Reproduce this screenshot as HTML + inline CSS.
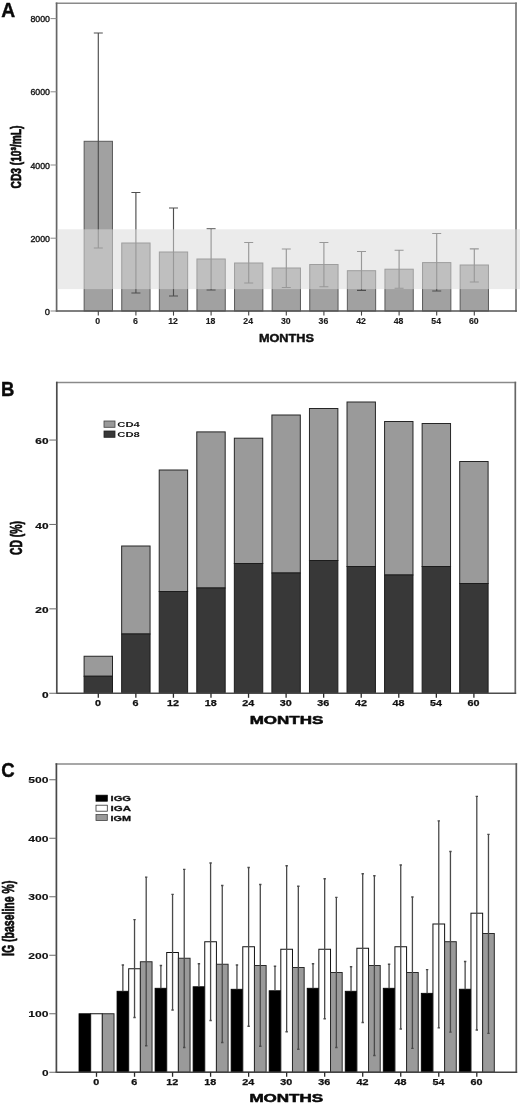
<!DOCTYPE html>
<html><head><meta charset="utf-8"><title>Figure</title>
<style>
html,body{margin:0;padding:0;background:#fff;}
body{width:520px;height:1104px;overflow:hidden;font-family:"Liberation Sans",sans-serif;}
svg{display:block;font-family:"Liberation Sans",sans-serif;filter:grayscale(1) blur(0.35px);}
</style></head><body>
<svg width="520" height="1104" viewBox="0 0 520 1104">
<rect width="520" height="1104" fill="#fff"/>
<g id="pA">
<rect x="84.15" y="141.3" width="28.3" height="169.70" fill="#a1a1a1" stroke="#5a5a5a" stroke-width="1"/>
<rect x="121.75" y="243" width="28.3" height="68.00" fill="#a1a1a1" stroke="#5a5a5a" stroke-width="1"/>
<rect x="159.35" y="252" width="28.3" height="59.00" fill="#a1a1a1" stroke="#5a5a5a" stroke-width="1"/>
<rect x="196.95" y="259" width="28.3" height="52.00" fill="#a1a1a1" stroke="#5a5a5a" stroke-width="1"/>
<rect x="234.55" y="263" width="28.3" height="48.00" fill="#a1a1a1" stroke="#5a5a5a" stroke-width="1"/>
<rect x="272.15" y="268" width="28.3" height="43.00" fill="#a1a1a1" stroke="#5a5a5a" stroke-width="1"/>
<rect x="309.75" y="264.5" width="28.3" height="46.50" fill="#a1a1a1" stroke="#5a5a5a" stroke-width="1"/>
<rect x="347.35" y="270.7" width="28.3" height="40.30" fill="#a1a1a1" stroke="#5a5a5a" stroke-width="1"/>
<rect x="384.95" y="269.2" width="28.3" height="41.80" fill="#a1a1a1" stroke="#5a5a5a" stroke-width="1"/>
<rect x="422.55" y="262.6" width="28.3" height="48.40" fill="#a1a1a1" stroke="#5a5a5a" stroke-width="1"/>
<rect x="460.15" y="265" width="28.3" height="46.00" fill="#a1a1a1" stroke="#5a5a5a" stroke-width="1"/>
<path d="M98.30 33V248M93.80 33h9M93.80 248h9" stroke="#4e4e4e" stroke-width="1.15" fill="none"/>
<path d="M135.90 192.5V293M131.40 192.5h9M131.40 293h9" stroke="#4e4e4e" stroke-width="1.15" fill="none"/>
<path d="M173.50 208V296M169.00 208h9M169.00 296h9" stroke="#4e4e4e" stroke-width="1.15" fill="none"/>
<path d="M211.10 228.75V290M206.60 228.75h9M206.60 290h9" stroke="#4e4e4e" stroke-width="1.15" fill="none"/>
<path d="M248.70 242.5V283M244.20 242.5h9M244.20 283h9" stroke="#4e4e4e" stroke-width="1.15" fill="none"/>
<path d="M286.30 249V287.5M281.80 249h9M281.80 287.5h9" stroke="#4e4e4e" stroke-width="1.15" fill="none"/>
<path d="M323.90 242.5V286.75M319.40 242.5h9M319.40 286.75h9" stroke="#4e4e4e" stroke-width="1.15" fill="none"/>
<path d="M361.50 251.5V290.3M357.00 251.5h9M357.00 290.3h9" stroke="#4e4e4e" stroke-width="1.15" fill="none"/>
<path d="M399.10 250.2V288.2M394.60 250.2h9M394.60 288.2h9" stroke="#4e4e4e" stroke-width="1.15" fill="none"/>
<path d="M436.70 233.5V291M432.20 233.5h9M432.20 291h9" stroke="#4e4e4e" stroke-width="1.15" fill="none"/>
<path d="M474.30 248.8V282M469.80 248.8h9M469.80 282h9" stroke="#4e4e4e" stroke-width="1.15" fill="none"/>
<path d="M55.75 3.3H516.85" stroke="#8a8a8a" stroke-width="1.5"/>
<path d="M516 2.55V311.75" stroke="#777" stroke-width="1.7"/>
<path d="M56.6 2.55V311.75" stroke="#666" stroke-width="1.7"/>
<path d="M55.75 311H516.85" stroke="#555" stroke-width="1.5"/>
<rect x="57.5" y="229.3" width="462.5" height="59.8" fill="#d9d9d9" fill-opacity="0.535"/>
<path d="M50.5 311.00H56.6" stroke="#8a8a8a" stroke-width="1"/>
<text x="50" y="314.6" font-size="9" font-weight="normal" text-anchor="end" fill="#1a1a1a" textLength="5.2" lengthAdjust="spacingAndGlyphs" stroke="#1a1a1a" stroke-width="0.4" stroke-linejoin="round">0</text>
<path d="M50.5 238.20H56.6" stroke="#8a8a8a" stroke-width="1"/>
<text x="50" y="241.8" font-size="9" font-weight="normal" text-anchor="end" fill="#1a1a1a" textLength="19.6" lengthAdjust="spacingAndGlyphs" stroke="#1a1a1a" stroke-width="0.4" stroke-linejoin="round">2000</text>
<path d="M50.5 165.00H56.6" stroke="#8a8a8a" stroke-width="1"/>
<text x="50" y="168.6" font-size="9" font-weight="normal" text-anchor="end" fill="#1a1a1a" textLength="19.6" lengthAdjust="spacingAndGlyphs" stroke="#1a1a1a" stroke-width="0.4" stroke-linejoin="round">4000</text>
<path d="M50.5 91.80H56.6" stroke="#8a8a8a" stroke-width="1"/>
<text x="50" y="95.4" font-size="9" font-weight="normal" text-anchor="end" fill="#1a1a1a" textLength="19.6" lengthAdjust="spacingAndGlyphs" stroke="#1a1a1a" stroke-width="0.4" stroke-linejoin="round">6000</text>
<path d="M50.5 18.60H56.6" stroke="#8a8a8a" stroke-width="1"/>
<text x="50" y="22.2" font-size="9" font-weight="normal" text-anchor="end" fill="#1a1a1a" textLength="19.6" lengthAdjust="spacingAndGlyphs" stroke="#1a1a1a" stroke-width="0.4" stroke-linejoin="round">8000</text>
<path d="M98.30 311v4.6" stroke="#444" stroke-width="1.1"/>
<text x="97.8" y="324.3" font-size="8.8" font-weight="bold" text-anchor="middle" fill="#1a1a1a" textLength="4.9" lengthAdjust="spacingAndGlyphs" stroke="#1a1a1a" stroke-width="0.15" stroke-linejoin="round">0</text>
<path d="M135.90 311v4.6" stroke="#444" stroke-width="1.1"/>
<text x="135.4" y="324.3" font-size="8.8" font-weight="bold" text-anchor="middle" fill="#1a1a1a" textLength="4.9" lengthAdjust="spacingAndGlyphs" stroke="#1a1a1a" stroke-width="0.15" stroke-linejoin="round">6</text>
<path d="M173.50 311v4.6" stroke="#444" stroke-width="1.1"/>
<text x="173.0" y="324.3" font-size="8.8" font-weight="bold" text-anchor="middle" fill="#1a1a1a" textLength="9.7" lengthAdjust="spacingAndGlyphs" stroke="#1a1a1a" stroke-width="0.15" stroke-linejoin="round">12</text>
<path d="M211.10 311v4.6" stroke="#444" stroke-width="1.1"/>
<text x="210.6" y="324.3" font-size="8.8" font-weight="bold" text-anchor="middle" fill="#1a1a1a" textLength="9.7" lengthAdjust="spacingAndGlyphs" stroke="#1a1a1a" stroke-width="0.15" stroke-linejoin="round">18</text>
<path d="M248.70 311v4.6" stroke="#444" stroke-width="1.1"/>
<text x="248.2" y="324.3" font-size="8.8" font-weight="bold" text-anchor="middle" fill="#1a1a1a" textLength="9.7" lengthAdjust="spacingAndGlyphs" stroke="#1a1a1a" stroke-width="0.15" stroke-linejoin="round">24</text>
<path d="M286.30 311v4.6" stroke="#444" stroke-width="1.1"/>
<text x="285.8" y="324.3" font-size="8.8" font-weight="bold" text-anchor="middle" fill="#1a1a1a" textLength="9.7" lengthAdjust="spacingAndGlyphs" stroke="#1a1a1a" stroke-width="0.15" stroke-linejoin="round">30</text>
<path d="M323.90 311v4.6" stroke="#444" stroke-width="1.1"/>
<text x="323.4" y="324.3" font-size="8.8" font-weight="bold" text-anchor="middle" fill="#1a1a1a" textLength="9.7" lengthAdjust="spacingAndGlyphs" stroke="#1a1a1a" stroke-width="0.15" stroke-linejoin="round">36</text>
<path d="M361.50 311v4.6" stroke="#444" stroke-width="1.1"/>
<text x="361.0" y="324.3" font-size="8.8" font-weight="bold" text-anchor="middle" fill="#1a1a1a" textLength="9.7" lengthAdjust="spacingAndGlyphs" stroke="#1a1a1a" stroke-width="0.15" stroke-linejoin="round">42</text>
<path d="M399.10 311v4.6" stroke="#444" stroke-width="1.1"/>
<text x="398.6" y="324.3" font-size="8.8" font-weight="bold" text-anchor="middle" fill="#1a1a1a" textLength="9.7" lengthAdjust="spacingAndGlyphs" stroke="#1a1a1a" stroke-width="0.15" stroke-linejoin="round">48</text>
<path d="M436.70 311v4.6" stroke="#444" stroke-width="1.1"/>
<text x="436.2" y="324.3" font-size="8.8" font-weight="bold" text-anchor="middle" fill="#1a1a1a" textLength="9.7" lengthAdjust="spacingAndGlyphs" stroke="#1a1a1a" stroke-width="0.15" stroke-linejoin="round">54</text>
<path d="M474.30 311v4.6" stroke="#444" stroke-width="1.1"/>
<text x="473.8" y="324.3" font-size="8.8" font-weight="bold" text-anchor="middle" fill="#1a1a1a" textLength="9.7" lengthAdjust="spacingAndGlyphs" stroke="#1a1a1a" stroke-width="0.15" stroke-linejoin="round">60</text>
<text x="286.4" y="341.5" font-size="11.2" font-weight="bold" text-anchor="middle" fill="#111" textLength="55" lengthAdjust="spacingAndGlyphs" stroke="#111" stroke-width="0.45" stroke-linejoin="round">MONTHS</text>
<text x="21" y="157" font-size="13.8" font-weight="bold" text-anchor="middle" fill="#0a0a0a" textLength="63" lengthAdjust="spacingAndGlyphs" transform="rotate(-90 21 157)" stroke="#0a0a0a" stroke-width="0.7" stroke-linejoin="round">CD3 (10&#179;/mL)</text>
<text x="8.2" y="16.9" font-size="19.3" font-weight="bold" text-anchor="middle" fill="#0a0a0a" stroke="#0a0a0a" stroke-width="0.4" stroke-linejoin="round">A</text>
</g>
<g id="pB">
<rect x="84.10" y="656.25" width="28.4" height="20.00" fill="#9a9a9a" stroke="#262626" stroke-width="1"/>
<rect x="84.10" y="676.25" width="28.4" height="16.95" fill="#383838" stroke="#1c1c1c" stroke-width="1"/>
<rect x="121.66" y="546" width="28.4" height="88.00" fill="#9a9a9a" stroke="#262626" stroke-width="1"/>
<rect x="121.66" y="634" width="28.4" height="59.20" fill="#383838" stroke="#1c1c1c" stroke-width="1"/>
<rect x="159.22" y="470" width="28.4" height="121.50" fill="#9a9a9a" stroke="#262626" stroke-width="1"/>
<rect x="159.22" y="591.5" width="28.4" height="101.70" fill="#383838" stroke="#1c1c1c" stroke-width="1"/>
<rect x="196.78" y="431.9" width="28.4" height="156.10" fill="#9a9a9a" stroke="#262626" stroke-width="1"/>
<rect x="196.78" y="588" width="28.4" height="105.20" fill="#383838" stroke="#1c1c1c" stroke-width="1"/>
<rect x="234.34" y="438.2" width="28.4" height="125.30" fill="#9a9a9a" stroke="#262626" stroke-width="1"/>
<rect x="234.34" y="563.5" width="28.4" height="129.70" fill="#383838" stroke="#1c1c1c" stroke-width="1"/>
<rect x="271.90" y="415" width="28.4" height="158.00" fill="#9a9a9a" stroke="#262626" stroke-width="1"/>
<rect x="271.90" y="573" width="28.4" height="120.20" fill="#383838" stroke="#1c1c1c" stroke-width="1"/>
<rect x="309.46" y="408.5" width="28.4" height="152.00" fill="#9a9a9a" stroke="#262626" stroke-width="1"/>
<rect x="309.46" y="560.5" width="28.4" height="132.70" fill="#383838" stroke="#1c1c1c" stroke-width="1"/>
<rect x="347.02" y="402" width="28.4" height="164.50" fill="#9a9a9a" stroke="#262626" stroke-width="1"/>
<rect x="347.02" y="566.5" width="28.4" height="126.70" fill="#383838" stroke="#1c1c1c" stroke-width="1"/>
<rect x="384.58" y="421.5" width="28.4" height="153.50" fill="#9a9a9a" stroke="#262626" stroke-width="1"/>
<rect x="384.58" y="575" width="28.4" height="118.20" fill="#383838" stroke="#1c1c1c" stroke-width="1"/>
<rect x="422.14" y="423.5" width="28.4" height="143.00" fill="#9a9a9a" stroke="#262626" stroke-width="1"/>
<rect x="422.14" y="566.5" width="28.4" height="126.70" fill="#383838" stroke="#1c1c1c" stroke-width="1"/>
<rect x="459.70" y="461.5" width="28.4" height="122.00" fill="#9a9a9a" stroke="#262626" stroke-width="1"/>
<rect x="459.70" y="583.5" width="28.4" height="109.70" fill="#383838" stroke="#1c1c1c" stroke-width="1"/>
<path d="M55.949999999999996 382.5H516.15" stroke="#8a8a8a" stroke-width="1.5"/>
<path d="M515.3 381.75V693.95" stroke="#666" stroke-width="1.7"/>
<path d="M56.8 381.75V693.95" stroke="#4c4c4c" stroke-width="1.7"/>
<path d="M55.949999999999996 693.2H516.15" stroke="#4c4c4c" stroke-width="1.5"/>
<path d="M49.3 693.25H56.8" stroke="#6a6a6a" stroke-width="1"/>
<text x="48.5" y="697.55" font-size="8.4" font-weight="bold" text-anchor="end" fill="#111" textLength="6.6" lengthAdjust="spacingAndGlyphs" stroke="#111" stroke-width="0.2" stroke-linejoin="round">0</text>
<path d="M49.3 608.85H56.8" stroke="#6a6a6a" stroke-width="1"/>
<text x="48.5" y="613.15" font-size="8.4" font-weight="bold" text-anchor="end" fill="#111" textLength="13.2" lengthAdjust="spacingAndGlyphs" stroke="#111" stroke-width="0.2" stroke-linejoin="round">20</text>
<path d="M49.3 524.45H56.8" stroke="#6a6a6a" stroke-width="1"/>
<text x="48.5" y="528.75" font-size="8.4" font-weight="bold" text-anchor="end" fill="#111" textLength="13.2" lengthAdjust="spacingAndGlyphs" stroke="#111" stroke-width="0.2" stroke-linejoin="round">40</text>
<path d="M49.3 440.05H56.8" stroke="#6a6a6a" stroke-width="1"/>
<text x="48.5" y="444.35" font-size="8.4" font-weight="bold" text-anchor="end" fill="#111" textLength="13.2" lengthAdjust="spacingAndGlyphs" stroke="#111" stroke-width="0.2" stroke-linejoin="round">60</text>
<path d="M98.30 693.2v4.6" stroke="#2a2a2a" stroke-width="1.3"/>
<text x="98.0" y="706.2" font-size="8.4" font-weight="bold" text-anchor="middle" fill="#111" textLength="6" lengthAdjust="spacingAndGlyphs" stroke="#111" stroke-width="0.25" stroke-linejoin="round">0</text>
<path d="M135.86 693.2v4.6" stroke="#2a2a2a" stroke-width="1.3"/>
<text x="135.56" y="706.2" font-size="8.4" font-weight="bold" text-anchor="middle" fill="#111" textLength="6" lengthAdjust="spacingAndGlyphs" stroke="#111" stroke-width="0.25" stroke-linejoin="round">6</text>
<path d="M173.42 693.2v4.6" stroke="#2a2a2a" stroke-width="1.3"/>
<text x="173.12" y="706.2" font-size="8.4" font-weight="bold" text-anchor="middle" fill="#111" textLength="12" lengthAdjust="spacingAndGlyphs" stroke="#111" stroke-width="0.25" stroke-linejoin="round">12</text>
<path d="M210.98 693.2v4.6" stroke="#2a2a2a" stroke-width="1.3"/>
<text x="210.68" y="706.2" font-size="8.4" font-weight="bold" text-anchor="middle" fill="#111" textLength="12" lengthAdjust="spacingAndGlyphs" stroke="#111" stroke-width="0.25" stroke-linejoin="round">18</text>
<path d="M248.54 693.2v4.6" stroke="#2a2a2a" stroke-width="1.3"/>
<text x="248.24" y="706.2" font-size="8.4" font-weight="bold" text-anchor="middle" fill="#111" textLength="12" lengthAdjust="spacingAndGlyphs" stroke="#111" stroke-width="0.25" stroke-linejoin="round">24</text>
<path d="M286.10 693.2v4.6" stroke="#2a2a2a" stroke-width="1.3"/>
<text x="285.8" y="706.2" font-size="8.4" font-weight="bold" text-anchor="middle" fill="#111" textLength="12" lengthAdjust="spacingAndGlyphs" stroke="#111" stroke-width="0.25" stroke-linejoin="round">30</text>
<path d="M323.66 693.2v4.6" stroke="#2a2a2a" stroke-width="1.3"/>
<text x="323.36" y="706.2" font-size="8.4" font-weight="bold" text-anchor="middle" fill="#111" textLength="12" lengthAdjust="spacingAndGlyphs" stroke="#111" stroke-width="0.25" stroke-linejoin="round">36</text>
<path d="M361.22 693.2v4.6" stroke="#2a2a2a" stroke-width="1.3"/>
<text x="360.92" y="706.2" font-size="8.4" font-weight="bold" text-anchor="middle" fill="#111" textLength="12" lengthAdjust="spacingAndGlyphs" stroke="#111" stroke-width="0.25" stroke-linejoin="round">42</text>
<path d="M398.78 693.2v4.6" stroke="#2a2a2a" stroke-width="1.3"/>
<text x="398.48" y="706.2" font-size="8.4" font-weight="bold" text-anchor="middle" fill="#111" textLength="12" lengthAdjust="spacingAndGlyphs" stroke="#111" stroke-width="0.25" stroke-linejoin="round">48</text>
<path d="M436.34 693.2v4.6" stroke="#2a2a2a" stroke-width="1.3"/>
<text x="436.04" y="706.2" font-size="8.4" font-weight="bold" text-anchor="middle" fill="#111" textLength="12" lengthAdjust="spacingAndGlyphs" stroke="#111" stroke-width="0.25" stroke-linejoin="round">54</text>
<path d="M473.90 693.2v4.6" stroke="#2a2a2a" stroke-width="1.3"/>
<text x="473.6" y="706.2" font-size="8.4" font-weight="bold" text-anchor="middle" fill="#111" textLength="12" lengthAdjust="spacingAndGlyphs" stroke="#111" stroke-width="0.25" stroke-linejoin="round">60</text>
<text x="286.5" y="724" font-size="11.2" font-weight="bold" text-anchor="middle" fill="#0a0a0a" textLength="73.6" lengthAdjust="spacingAndGlyphs" stroke="#0a0a0a" stroke-width="0.5" stroke-linejoin="round">MONTHS</text>
<text x="21.8" y="538" font-size="16" font-weight="bold" text-anchor="middle" fill="#0a0a0a" textLength="34" lengthAdjust="spacingAndGlyphs" transform="rotate(-90 21.8 538)" stroke="#0a0a0a" stroke-width="0.7" stroke-linejoin="round">CD (%)</text>
<text x="7.6" y="396" font-size="20" font-weight="bold" text-anchor="middle" fill="#0a0a0a" textLength="13.4" lengthAdjust="spacingAndGlyphs" stroke="#0a0a0a" stroke-width="0.4" stroke-linejoin="round">B</text>
<rect x="104" y="421" width="11" height="6.3" fill="#9a9a9a" stroke="#444" stroke-width="0.8"/>
<rect x="104" y="431" width="11" height="6.3" fill="#383838" stroke="#222" stroke-width="0.8"/>
<text x="117.3" y="427.3" font-size="8" font-weight="bold" text-anchor="start" fill="#111" textLength="22.5" lengthAdjust="spacingAndGlyphs">CD4</text>
<text x="117.3" y="437.3" font-size="8" font-weight="bold" text-anchor="start" fill="#111" textLength="22.5" lengthAdjust="spacingAndGlyphs">CD8</text>
</g>
<g id="pC">
<rect x="79.00" y="1013.75" width="11.67" height="58.45" fill="#000" stroke="#000" stroke-width="0.8"/>
<rect x="90.67" y="1013.75" width="11.67" height="58.45" fill="#fff" stroke="#111" stroke-width="1"/>
<rect x="102.34" y="1013.75" width="11.67" height="58.45" fill="#9a9a9a" stroke="#2a2a2a" stroke-width="1"/>
<rect x="117.03" y="991.25" width="11.67" height="80.95" fill="#000" stroke="#000" stroke-width="0.8"/>
<rect x="128.69" y="968.75" width="11.67" height="103.45" fill="#fff" stroke="#111" stroke-width="1"/>
<rect x="140.37" y="961.75" width="11.67" height="110.45" fill="#9a9a9a" stroke="#2a2a2a" stroke-width="1"/>
<path d="M122.86 965V991.25M121.66 965h2.4" stroke="#4a4a4a" stroke-width="1.3" fill="none"/>
<path d="M134.53 919.6V1017.5M133.33 919.6h2.4M133.33 1017.5h2.4" stroke="#4a4a4a" stroke-width="1.3" fill="none"/>
<path d="M146.20 877.2V1045.75M145.00 877.2h2.4M145.00 1045.75h2.4" stroke="#4a4a4a" stroke-width="1.3" fill="none"/>
<rect x="155.06" y="988.25" width="11.67" height="83.95" fill="#000" stroke="#000" stroke-width="0.8"/>
<rect x="166.72" y="952.5" width="11.67" height="119.70" fill="#fff" stroke="#111" stroke-width="1"/>
<rect x="178.40" y="958.25" width="11.67" height="113.95" fill="#9a9a9a" stroke="#2a2a2a" stroke-width="1"/>
<path d="M160.89 965.5V988.25M159.69 965.5h2.4" stroke="#4a4a4a" stroke-width="1.3" fill="none"/>
<path d="M172.56 894.4V1010M171.36 894.4h2.4M171.36 1010h2.4" stroke="#4a4a4a" stroke-width="1.3" fill="none"/>
<path d="M184.23 869.3V1047.5M183.03 869.3h2.4M183.03 1047.5h2.4" stroke="#4a4a4a" stroke-width="1.3" fill="none"/>
<rect x="193.09" y="986.75" width="11.67" height="85.45" fill="#000" stroke="#000" stroke-width="0.8"/>
<rect x="204.75" y="941.75" width="11.67" height="130.45" fill="#fff" stroke="#111" stroke-width="1"/>
<rect x="216.43" y="964.25" width="11.67" height="107.95" fill="#9a9a9a" stroke="#2a2a2a" stroke-width="1"/>
<path d="M198.92 963.75V986.75M197.72 963.75h2.4" stroke="#4a4a4a" stroke-width="1.3" fill="none"/>
<path d="M210.59 863V1020.5M209.39 863h2.4M209.39 1020.5h2.4" stroke="#4a4a4a" stroke-width="1.3" fill="none"/>
<path d="M222.26 885.5V1042.5M221.06 885.5h2.4M221.06 1042.5h2.4" stroke="#4a4a4a" stroke-width="1.3" fill="none"/>
<rect x="231.12" y="989.25" width="11.67" height="82.95" fill="#000" stroke="#000" stroke-width="0.8"/>
<rect x="242.78" y="946.75" width="11.67" height="125.45" fill="#fff" stroke="#111" stroke-width="1"/>
<rect x="254.46" y="965.5" width="11.67" height="106.70" fill="#9a9a9a" stroke="#2a2a2a" stroke-width="1"/>
<path d="M236.95 965V989.25M235.75 965h2.4" stroke="#4a4a4a" stroke-width="1.3" fill="none"/>
<path d="M248.62 867.5V1026.25M247.42 867.5h2.4M247.42 1026.25h2.4" stroke="#4a4a4a" stroke-width="1.3" fill="none"/>
<path d="M260.29 884.5V1046.25M259.09 884.5h2.4M259.09 1046.25h2.4" stroke="#4a4a4a" stroke-width="1.3" fill="none"/>
<rect x="269.14" y="990.75" width="11.67" height="81.45" fill="#000" stroke="#000" stroke-width="0.8"/>
<rect x="280.81" y="949.25" width="11.67" height="122.95" fill="#fff" stroke="#111" stroke-width="1"/>
<rect x="292.48" y="967.5" width="11.67" height="104.70" fill="#9a9a9a" stroke="#2a2a2a" stroke-width="1"/>
<path d="M274.98 966.25V990.75M273.78 966.25h2.4" stroke="#4a4a4a" stroke-width="1.3" fill="none"/>
<path d="M286.65 865.75V1031.75M285.45 865.75h2.4M285.45 1031.75h2.4" stroke="#4a4a4a" stroke-width="1.3" fill="none"/>
<path d="M298.32 886.25V1049.25M297.12 886.25h2.4M297.12 1049.25h2.4" stroke="#4a4a4a" stroke-width="1.3" fill="none"/>
<rect x="307.18" y="988.25" width="11.67" height="83.95" fill="#000" stroke="#000" stroke-width="0.8"/>
<rect x="318.85" y="949.25" width="11.67" height="122.95" fill="#fff" stroke="#111" stroke-width="1"/>
<rect x="330.51" y="972.5" width="11.67" height="99.70" fill="#9a9a9a" stroke="#2a2a2a" stroke-width="1"/>
<path d="M313.01 963.75V988.25M311.81 963.75h2.4" stroke="#4a4a4a" stroke-width="1.3" fill="none"/>
<path d="M324.68 878.75V1018.75M323.48 878.75h2.4M323.48 1018.75h2.4" stroke="#4a4a4a" stroke-width="1.3" fill="none"/>
<path d="M336.35 897.3V1047.5M335.15 897.3h2.4M335.15 1047.5h2.4" stroke="#4a4a4a" stroke-width="1.3" fill="none"/>
<rect x="345.21" y="991.25" width="11.67" height="80.95" fill="#000" stroke="#000" stroke-width="0.8"/>
<rect x="356.88" y="948.25" width="11.67" height="123.95" fill="#fff" stroke="#111" stroke-width="1"/>
<rect x="368.55" y="965.5" width="11.67" height="106.70" fill="#9a9a9a" stroke="#2a2a2a" stroke-width="1"/>
<path d="M351.04 966.75V991.25M349.84 966.75h2.4" stroke="#4a4a4a" stroke-width="1.3" fill="none"/>
<path d="M362.71 873.75V1022.5M361.51 873.75h2.4M361.51 1022.5h2.4" stroke="#4a4a4a" stroke-width="1.3" fill="none"/>
<path d="M374.38 875.75V1055.5M373.18 875.75h2.4M373.18 1055.5h2.4" stroke="#4a4a4a" stroke-width="1.3" fill="none"/>
<rect x="383.24" y="988.25" width="11.67" height="83.95" fill="#000" stroke="#000" stroke-width="0.8"/>
<rect x="394.91" y="946.75" width="11.67" height="125.45" fill="#fff" stroke="#111" stroke-width="1"/>
<rect x="406.57" y="972.5" width="11.67" height="99.70" fill="#9a9a9a" stroke="#2a2a2a" stroke-width="1"/>
<path d="M389.07 964.25V988.25M387.87 964.25h2.4" stroke="#4a4a4a" stroke-width="1.3" fill="none"/>
<path d="M400.74 865V1029M399.54 865h2.4M399.54 1029h2.4" stroke="#4a4a4a" stroke-width="1.3" fill="none"/>
<path d="M412.41 897V1048.4M411.21 897h2.4M411.21 1048.4h2.4" stroke="#4a4a4a" stroke-width="1.3" fill="none"/>
<rect x="421.26" y="993.3" width="11.67" height="78.90" fill="#000" stroke="#000" stroke-width="0.8"/>
<rect x="432.94" y="924" width="11.67" height="148.20" fill="#fff" stroke="#111" stroke-width="1"/>
<rect x="444.60" y="941.7" width="11.67" height="130.50" fill="#9a9a9a" stroke="#2a2a2a" stroke-width="1"/>
<path d="M427.10 969.7V993.3M425.90 969.7h2.4" stroke="#4a4a4a" stroke-width="1.3" fill="none"/>
<path d="M438.77 820.8V1027.8M437.57 820.8h2.4M437.57 1027.8h2.4" stroke="#4a4a4a" stroke-width="1.3" fill="none"/>
<path d="M450.44 851.5V1032.2M449.24 851.5h2.4M449.24 1032.2h2.4" stroke="#4a4a4a" stroke-width="1.3" fill="none"/>
<rect x="459.30" y="989.2" width="11.67" height="83.00" fill="#000" stroke="#000" stroke-width="0.8"/>
<rect x="470.97" y="913.2" width="11.67" height="159.00" fill="#fff" stroke="#111" stroke-width="1"/>
<rect x="482.63" y="933.5" width="11.67" height="138.70" fill="#9a9a9a" stroke="#2a2a2a" stroke-width="1"/>
<path d="M465.13 961.5V989.2M463.93 961.5h2.4" stroke="#4a4a4a" stroke-width="1.3" fill="none"/>
<path d="M476.80 796.3V1030M475.60 796.3h2.4M475.60 1030h2.4" stroke="#4a4a4a" stroke-width="1.3" fill="none"/>
<path d="M488.47 834.3V1033.3M487.27 834.3h2.4M487.27 1033.3h2.4" stroke="#4a4a4a" stroke-width="1.3" fill="none"/>
<path d="M55.55 764.1H517.15" stroke="#8a8a8a" stroke-width="1.5"/>
<path d="M516.3 763.35V1072.95" stroke="#5c5c5c" stroke-width="1.7"/>
<path d="M56.4 763.35V1072.95" stroke="#484848" stroke-width="1.7"/>
<path d="M55.55 1072.2H517.15" stroke="#444" stroke-width="1.5"/>
<path d="M49.3 1072.25H56.4" stroke="#6a6a6a" stroke-width="1"/>
<text x="48.5" y="1075.75" font-size="8.4" font-weight="bold" text-anchor="end" fill="#111" textLength="6.6" lengthAdjust="spacingAndGlyphs" stroke="#111" stroke-width="0.1" stroke-linejoin="round">0</text>
<path d="M49.3 1013.75H56.4" stroke="#6a6a6a" stroke-width="1"/>
<text x="48.5" y="1017.25" font-size="8.4" font-weight="bold" text-anchor="end" fill="#111" textLength="20.3" lengthAdjust="spacingAndGlyphs" stroke="#111" stroke-width="0.1" stroke-linejoin="round">100</text>
<path d="M49.3 955.25H56.4" stroke="#6a6a6a" stroke-width="1"/>
<text x="48.5" y="958.75" font-size="8.4" font-weight="bold" text-anchor="end" fill="#111" textLength="20.3" lengthAdjust="spacingAndGlyphs" stroke="#111" stroke-width="0.1" stroke-linejoin="round">200</text>
<path d="M49.3 896.75H56.4" stroke="#6a6a6a" stroke-width="1"/>
<text x="48.5" y="900.25" font-size="8.4" font-weight="bold" text-anchor="end" fill="#111" textLength="20.3" lengthAdjust="spacingAndGlyphs" stroke="#111" stroke-width="0.1" stroke-linejoin="round">300</text>
<path d="M49.3 838.25H56.4" stroke="#6a6a6a" stroke-width="1"/>
<text x="48.5" y="841.75" font-size="8.4" font-weight="bold" text-anchor="end" fill="#111" textLength="20.3" lengthAdjust="spacingAndGlyphs" stroke="#111" stroke-width="0.1" stroke-linejoin="round">400</text>
<path d="M49.3 779.75H56.4" stroke="#6a6a6a" stroke-width="1"/>
<text x="48.5" y="783.25" font-size="8.4" font-weight="bold" text-anchor="end" fill="#111" textLength="20.3" lengthAdjust="spacingAndGlyphs" stroke="#111" stroke-width="0.1" stroke-linejoin="round">500</text>
<path d="M96.50 1072.2v4.6" stroke="#2a2a2a" stroke-width="1.3"/>
<text x="96.2" y="1084.8" font-size="8.4" font-weight="bold" text-anchor="middle" fill="#111" textLength="6" lengthAdjust="spacingAndGlyphs" stroke="#111" stroke-width="0.25" stroke-linejoin="round">0</text>
<path d="M134.53 1072.2v4.6" stroke="#2a2a2a" stroke-width="1.3"/>
<text x="134.23" y="1084.8" font-size="8.4" font-weight="bold" text-anchor="middle" fill="#111" textLength="6" lengthAdjust="spacingAndGlyphs" stroke="#111" stroke-width="0.25" stroke-linejoin="round">6</text>
<path d="M172.56 1072.2v4.6" stroke="#2a2a2a" stroke-width="1.3"/>
<text x="172.26" y="1084.8" font-size="8.4" font-weight="bold" text-anchor="middle" fill="#111" textLength="12" lengthAdjust="spacingAndGlyphs" stroke="#111" stroke-width="0.25" stroke-linejoin="round">12</text>
<path d="M210.59 1072.2v4.6" stroke="#2a2a2a" stroke-width="1.3"/>
<text x="210.29" y="1084.8" font-size="8.4" font-weight="bold" text-anchor="middle" fill="#111" textLength="12" lengthAdjust="spacingAndGlyphs" stroke="#111" stroke-width="0.25" stroke-linejoin="round">18</text>
<path d="M248.62 1072.2v4.6" stroke="#2a2a2a" stroke-width="1.3"/>
<text x="248.32" y="1084.8" font-size="8.4" font-weight="bold" text-anchor="middle" fill="#111" textLength="12" lengthAdjust="spacingAndGlyphs" stroke="#111" stroke-width="0.25" stroke-linejoin="round">24</text>
<path d="M286.65 1072.2v4.6" stroke="#2a2a2a" stroke-width="1.3"/>
<text x="286.35" y="1084.8" font-size="8.4" font-weight="bold" text-anchor="middle" fill="#111" textLength="12" lengthAdjust="spacingAndGlyphs" stroke="#111" stroke-width="0.25" stroke-linejoin="round">30</text>
<path d="M324.68 1072.2v4.6" stroke="#2a2a2a" stroke-width="1.3"/>
<text x="324.38" y="1084.8" font-size="8.4" font-weight="bold" text-anchor="middle" fill="#111" textLength="12" lengthAdjust="spacingAndGlyphs" stroke="#111" stroke-width="0.25" stroke-linejoin="round">36</text>
<path d="M362.71 1072.2v4.6" stroke="#2a2a2a" stroke-width="1.3"/>
<text x="362.41" y="1084.8" font-size="8.4" font-weight="bold" text-anchor="middle" fill="#111" textLength="12" lengthAdjust="spacingAndGlyphs" stroke="#111" stroke-width="0.25" stroke-linejoin="round">42</text>
<path d="M400.74 1072.2v4.6" stroke="#2a2a2a" stroke-width="1.3"/>
<text x="400.44" y="1084.8" font-size="8.4" font-weight="bold" text-anchor="middle" fill="#111" textLength="12" lengthAdjust="spacingAndGlyphs" stroke="#111" stroke-width="0.25" stroke-linejoin="round">48</text>
<path d="M438.77 1072.2v4.6" stroke="#2a2a2a" stroke-width="1.3"/>
<text x="438.47" y="1084.8" font-size="8.4" font-weight="bold" text-anchor="middle" fill="#111" textLength="12" lengthAdjust="spacingAndGlyphs" stroke="#111" stroke-width="0.25" stroke-linejoin="round">54</text>
<path d="M476.80 1072.2v4.6" stroke="#2a2a2a" stroke-width="1.3"/>
<text x="476.5" y="1084.8" font-size="8.4" font-weight="bold" text-anchor="middle" fill="#111" textLength="12" lengthAdjust="spacingAndGlyphs" stroke="#111" stroke-width="0.25" stroke-linejoin="round">60</text>
<text x="286.3" y="1102.2" font-size="11.2" font-weight="bold" text-anchor="middle" fill="#0a0a0a" textLength="73.8" lengthAdjust="spacingAndGlyphs" stroke="#0a0a0a" stroke-width="0.5" stroke-linejoin="round">MONTHS</text>
<text x="14.5" y="918.3" font-size="16.8" font-weight="bold" text-anchor="middle" fill="#0a0a0a" textLength="75.5" lengthAdjust="spacingAndGlyphs" transform="rotate(-90 14.5 918.3)" stroke="#0a0a0a" stroke-width="0.7" stroke-linejoin="round">IG (baseline %)</text>
<text x="8" y="777.2" font-size="20" font-weight="bold" text-anchor="middle" fill="#0a0a0a" textLength="13.4" lengthAdjust="spacingAndGlyphs" stroke="#0a0a0a" stroke-width="0.4" stroke-linejoin="round">C</text>
<rect x="96" y="795.2" width="11.3" height="6" fill="#000" stroke="#000" stroke-width="0.8"/>
<rect x="96" y="805.2" width="11.3" height="6" fill="#fff" stroke="#333" stroke-width="0.8"/>
<rect x="96" y="814.6" width="11.3" height="6" fill="#9a9a9a" stroke="#444" stroke-width="0.8"/>
<text x="110.6" y="801.2" font-size="7.6" font-weight="bold" text-anchor="start" fill="#111" textLength="20.4" lengthAdjust="spacingAndGlyphs" stroke="#111" stroke-width="0.3" stroke-linejoin="round">IGG</text>
<text x="110.6" y="811" font-size="7.6" font-weight="bold" text-anchor="start" fill="#111" textLength="20.4" lengthAdjust="spacingAndGlyphs" stroke="#111" stroke-width="0.3" stroke-linejoin="round">IGA</text>
<text x="110.6" y="820.6" font-size="7.6" font-weight="bold" text-anchor="start" fill="#111" textLength="20.4" lengthAdjust="spacingAndGlyphs" stroke="#111" stroke-width="0.3" stroke-linejoin="round">IGM</text>
</g>
</svg>
</body></html>
